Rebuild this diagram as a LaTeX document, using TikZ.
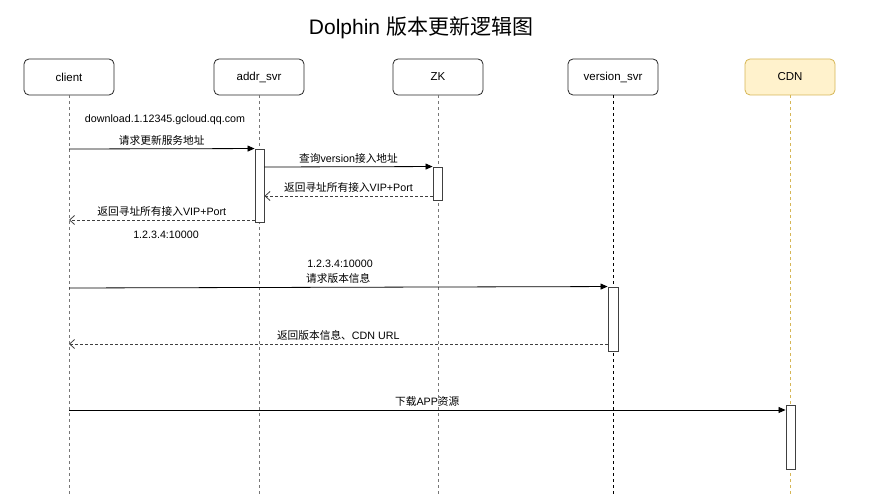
\documentclass[tikz,border=0pt]{standalone}
\usepackage{fontspec}
\setmainfont{Liberation Sans}
\newfontfamily\cjk{Noto Sans CJK SC}
\usetikzlibrary{arrows.meta}
\definecolor{cdnfill}{HTML}{FFF2CC}
\definecolor{cdndraw}{HTML}{D6B656}
\definecolor{lifegray}{HTML}{777777}
\tikzset{
  actor/.style={draw=black!85, rounded corners=5pt, minimum width=90pt, minimum height=36pt, fill=white, font=\fontsize{11.5}{13}\selectfont, line width=0.8pt},
  life/.style={dashed, dash pattern=on 3pt off 3pt, line width=0.8pt},
  act/.style={draw=black!75, fill=white, line width=0.9pt},
  msg/.style={-{Triangle[length=7pt,width=6pt]}, line width=0.8pt},
  ret/.style={dashed, dash pattern=on 3pt off 2pt, draw=black!75, line width=0.8pt, -{Straight Barb[length=5pt,width=9pt]}},
  lbl/.style={font=\fontsize{10.7}{12}\selectfont, inner sep=1pt},
}
\begin{document}
\begin{tikzpicture}[x=1pt,y=-1pt]
\useasboundingbox (0,0) rectangle (886,494);
\node[font=\fontsize{21}{25}\selectfont] (title) at (421,27.5) {Dolphin {\cjk 版本更新逻辑图}};
% actors
\node[actor] (client) at (69,77) {client};
\node[actor] (addr) at (259,77) {addr\_svr};
\node[actor] (zk) at (438,77) {ZK};
\node[actor] (ver) at (613,77) {version\_svr};
\node[actor, fill=cdnfill, draw=cdndraw] (cdn) at (790,77) {CDN};
% lifeline ends
\coordinate (clientE) at (69,494);
\coordinate (addrE) at (259,494);
\coordinate (zkE) at (438,494);
\coordinate (verE) at (613,494);
\coordinate (cdnE) at (790,494);
\draw[life, lifegray] (client) -- (clientE);
\draw[life, lifegray] (addr) -- (addrE);
\draw[life, lifegray] (zk) -- (zkE);
\draw[life, black] (ver) -- (verE);
\draw[life, cdndraw] (cdn) -- (cdnE);
% activations
\node[act, minimum width=9pt, minimum height=73pt, inner sep=0pt] (addrA) at (259.5,185.5) {};
\node[act, minimum width=9pt, minimum height=33pt, inner sep=0pt] (zkA) at (437.5,183.5) {};
\node[act, minimum width=10pt, minimum height=64pt, inner sep=0pt] (verA) at (613,319) {};
\node[act, minimum width=9pt, minimum height=64pt, inner sep=0pt] (cdnA) at (790.5,437) {};
% anchors on client lifeline
\coordinate (c1) at (69,149);
\coordinate (c4) at (69,220);
\coordinate (c5) at (69,288);
\coordinate (c6) at (69,344);
\coordinate (c7) at (69,410);
% messages
\draw[msg] (c1) -- (addrA.north west) node[lbl, midway, above=2pt] (m1) {\cjk 请求更新服务地址};
\node[lbl] (m1b) at (165,120) {download.1.12345.gcloud.qq.com};
\draw[msg] (addrA.east |- 0,167) -- (zkA.north west) node[lbl, midway, above=2pt] (m2) {{\cjk 查询}version{\cjk 接入地址}};
\draw[ret] (zkA.west |- 0,196) -- (addrA.east |- 0,196) node[lbl, midway, above=2pt] (m3) {{\cjk 返回寻址所有接入}VIP+Port};
\draw[ret] (addrA.west |- 0,220) -- (c4) node[lbl, midway, above=2pt] (m4) {{\cjk 返回寻址所有接入}VIP+Port};
\node[lbl] (m4b) at (166,235) {1.2.3.4:10000};
\draw[msg] (c5) -- (verA.north west) node[lbl, pos=0.5, above=2pt] (m5) {\cjk 请求版本信息};
\node[lbl] (m5b) at (340,264) {1.2.3.4:10000};
\draw[ret] (verA.west |- 0,344) -- (c6) node[lbl, midway, above=2pt] (m6) {{\cjk 返回版本信息、}CDN URL};
\draw[msg] (c7) -- (cdnA.west |- 0,410) node[lbl, midway, above=2pt] (m7) {{\cjk 下载}APP{\cjk 资源}};
\end{tikzpicture}
\end{document}
